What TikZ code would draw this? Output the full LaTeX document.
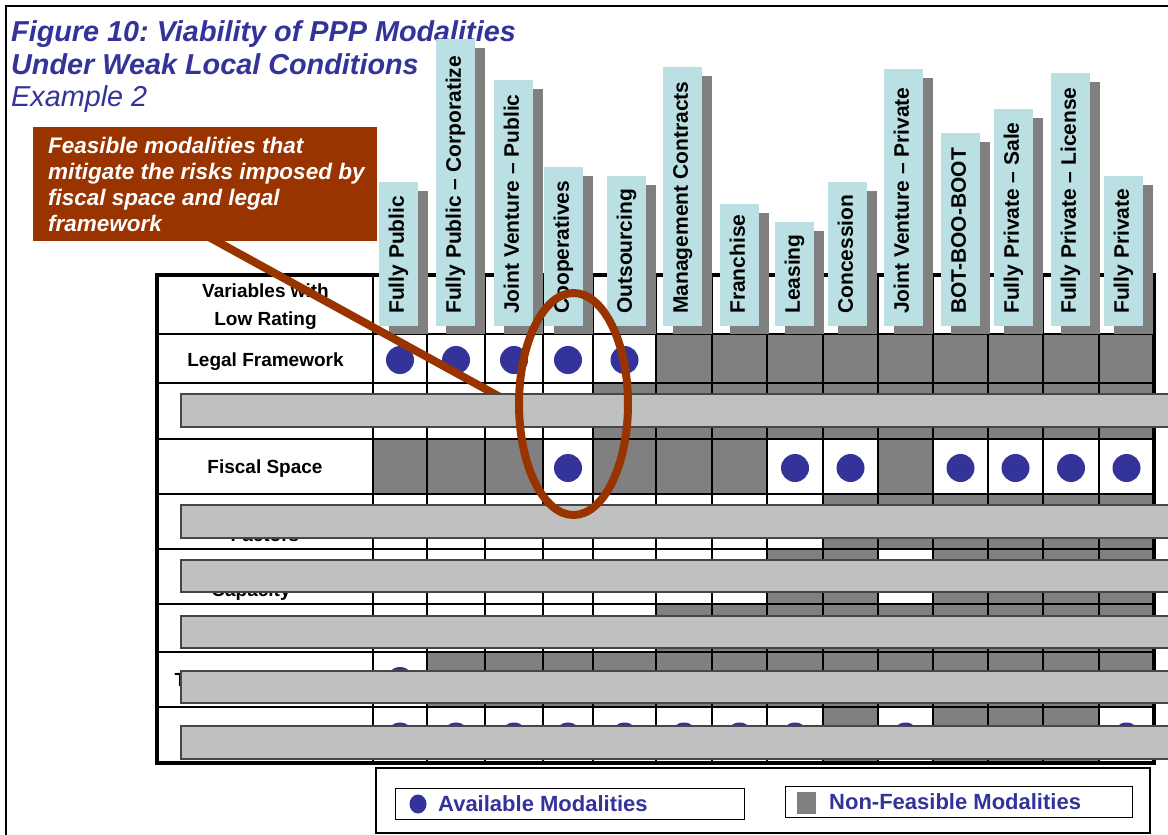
\documentclass[tikz,border=0pt]{standalone}
\usepackage{fontspec}
\setmainfont{Liberation Sans}
\usetikzlibrary{calc}
\frenchspacing
\definecolor{navy}{RGB}{51,51,153}
\definecolor{brn}{RGB}{153,51,0}
\definecolor{tabc}{RGB}{187,224,227}
\definecolor{dgray}{RGB}{128,128,128}
\definecolor{lgray}{RGB}{192,192,192}
\definecolor{bargray}{RGB}{70,70,70}
\tikzset{
  tabtext/.style={rotate=90, anchor=west, inner sep=0pt, text height=15pt, text depth=4.5pt, font=\bfseries\fontsize{21}{21}\selectfont},
  rowlabel/.style={anchor=base, inner sep=0pt, font=\bfseries\fontsize{19}{19}\selectfont},
  titletext/.style={anchor=base west, inner sep=0pt, text=navy},
  callouttext/.style={anchor=base west, inner sep=0pt, text=white, font=\bfseries\itshape\fontsize{22.5}{22.5}\selectfont},
  overbar/.style={fill=lgray, draw=bargray, line width=1.2pt},
  gridline/.style={line width=1.4pt, black},
  legtext/.style={anchor=base west, inner sep=0pt, text=navy, font=\bfseries\fontsize{22}{22}\selectfont},
  legbox/.style={draw, line width=1.2pt, anchor=north west, inner sep=0pt},
  brnline/.style={brn, line width=8pt},
}
\begin{document}
\begin{tikzpicture}[x=1pt,y=-1pt]
\useasboundingbox (0,0) rectangle (1168,835);
\fill[white] (0,0) rectangle (1168,835);
% outer frame (cropped)
\draw[line width=2.5pt] (6,836) -- (6,6) -- (1170,6);

% title
\node[titletext, font=\bfseries\itshape\fontsize{28.8}{28.8}\selectfont] (title1) at (11,41) {Figure 10: Viability of PPP Modalities};
\node[titletext, font=\bfseries\itshape\fontsize{28.8}{28.8}\selectfont] (title2) at (11,74) {Under Weak Local Conditions};
\node[titletext, font=\itshape\fontsize{28.8}{28.8}\selectfont] (title3) at (11,106) {Example 2};

% grid coordinates
\foreach \x [count=\i from 0] in {373,427,485,543,593,656,712,767,823,878,933,988,1043,1099,1154}
  \coordinate (X\i) at (\x,0);
\foreach \y [count=\i from 0] in {275,334,383,439,494,549,604,652,707,763}
  \coordinate (Y\i) at (0,\y);

% non-feasible cells
\foreach \r/\cl in {1/{6,7,8,9,10,11,12,13,14}, 2/{5,6,7,8,9,10,11,12,13,14}, 3/{1,2,3,5,6,7,10}, 4/{9,10,11,12,13,14}, 5/{8,9,11,12,13,14}, 6/{6,7,8,9,10,11,12,13,14}, 7/{2,3,4,5,6,7,8,9,10,11,12,13,14}, 8/{9,11,12,13}} {
  \foreach \c in \cl {
    \pgfmathtruncatemacro\cm{\c-1}
    \pgfmathtruncatemacro\rp{\r+1}
    \fill[dgray] (X\cm|-Y\r) rectangle (X\c|-Y\rp);
  }
}
% available cells
\foreach \r/\cl in {1/{1,2,3,4,5}, 3/{4,8,9,11,12,13,14}, 6/{1,2,3,4,5}, 7/{1}, 8/{1,2,3,4,5,6,7,8,10,14}} {
  \foreach \c in \cl {
    \pgfmathtruncatemacro\cm{\c-1}
    \pgfmathtruncatemacro\rp{\r+1}
    \fill[navy] ($(X\cm|-Y\r)!0.5!(X\c|-Y\rp)+(0,1.5)$) circle[radius=14];
  }
}
% grid
\foreach \i in {1,...,8}
  \draw[gridline] ($(Y\i)+(157,0)$) -- ($(Y\i)+(1154,0)$);
\foreach \i in {0,...,13}
  \draw[gridline] (X\i|-Y0) -- (X\i|-Y9);
\draw[line width=3.5pt] (157,275) rectangle (1154,763);

% row labels
\node[rowlabel] (hdr1) at (265.5,297.5) {Variables with};
\node[rowlabel] (hdr2) at (265.5,325) {Low Rating};
\node[rowlabel] (legal) at (265.5,366.5) {Legal Framework};
\node[rowlabel] (fiscal) at (265,473) {Fiscal Space};
\node[rowlabel] (factors) at (265,541) {Factors};
\node[rowlabel] (capacity) at (251,596) {Capacity};
\node[rowlabel, anchor=base west] (tfrag) at (174.5,686) {T};

% column tabs
\foreach \l/\t/\txt [count=\k] in {379/182/Fully Public, 436/39/Fully Public – Corporatize, 494/80/Joint Venture – Public, 544/167/Cooperatives, 607/176/Outsourcing, 663/67/Management Contracts, 720/204/Franchise, 775/222/Leasing, 828/182/Concession, 884/69/Joint Venture – Private, 941/133/BOT-BOO-BOOT, 994/109/Fully Private – Sale, 1051/73/Fully Private – License, 1104/176/Fully Private} {
  \fill[dgray] (\l+10,\t+9) rectangle (\l+49,334);
  \fill[tabc] (\l,\t) rectangle (\l+39,326);
  \node[tabtext] (tab\k) at (\l+19.5,314) {\txt};
}

% pointer line and callout
\coordinate (ls) at (207,236);
\coordinate (le) at (500,397);
\draw[brnline] (ls) -- (le);
\node[fill=brn, anchor=north west, inner sep=0pt, minimum width=344pt, minimum height=114pt] (callout) at (33,127) {};
\node[callouttext] (c1) at (48,153) {Feasible modalities that};
\node[callouttext] (c2) at (48,179) {mitigate the risks imposed by};
\node[callouttext] (c3) at (48,205) {fiscal space and legal};
\node[callouttext] (c4) at (48,231) {framework};

% masking bars
\foreach \a/\b in {394/427, 505/538, 560/592, 616/648, 671/703, 726/759}
  \draw[overbar] (181,\a) rectangle (1185,\b);

% highlight ellipse
\draw[brnline] (573.5,404) ellipse[x radius=54.5, y radius=111];

% legend
\draw[line width=1.2pt] (376,768) rectangle (1150,833);
\node[legbox, minimum width=349pt, minimum height=31pt] (leg1) at (395,788) {};
\fill[navy] (418,804) ellipse[x radius=8.5, y radius=9.5];
\node[legtext] (leg1t) at (438,811.5) {Available Modalities};
\node[legbox, minimum width=347pt, minimum height=31pt] (leg2) at (785,786) {};
\fill[dgray] (797,792) rectangle (816,814);
\node[legtext] (leg2t) at (829,809.5) {Non-Feasible Modalities};
\end{tikzpicture}
\end{document}
